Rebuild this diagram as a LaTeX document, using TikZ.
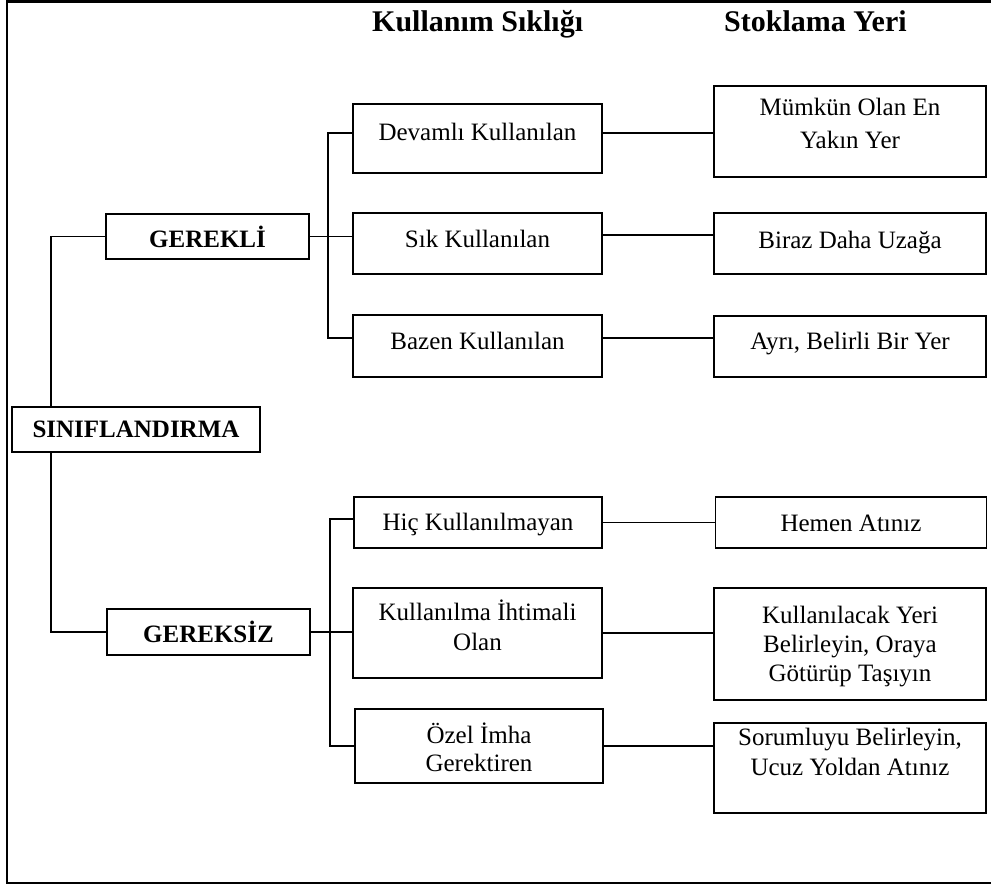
\documentclass[tikz,border=0pt]{standalone}
\usepackage{fontspec}
\setmainfont{Liberation Serif}
\tikzset{
  box/.style={draw, line width=1.7pt, inner sep=0pt, font=\fontsize{25}{31}\selectfont},
  bbox/.style={box, font=\fontsize{25}{31}\selectfont\bfseries},
  txt/.style={inner sep=0pt, anchor=base, font=\fontsize{25}{31}\selectfont},
  ttl/.style={inner sep=0pt, anchor=base west, font=\fontsize{30}{36}\selectfont\bfseries},
  conn/.style={line width=1.4pt},
  frm/.style={line width=2.2pt}
}
\begin{document}
\begin{tikzpicture}[x=1pt,y=-1pt]
\useasboundingbox (0,0) rectangle (991,886);
% frame
\coordinate (f1) at (998,1.5);
\coordinate (f2) at (7,1.5);
\coordinate (f3) at (7,883);
\coordinate (f4) at (998,883);
\draw[frm] (f1) -- (f2) -- (f3) -- (f4);
% titles
\node[ttl] (t1) at (372,31) {Kullanım Sıklığı};
\node[ttl] (t2) at (724,31) {Stoklama Yeri};
% left column
\node[bbox, minimum width=248pt, minimum height=45pt] (sin) at (136,429.5) {SINIFLANDIRMA};
\node[bbox, minimum width=203pt, minimum height=45pt] (grk) at (207.5,236.5) {GEREKLİ};
\node[bbox, minimum width=203pt, minimum height=46pt] (grs) at (208.5,632) {GEREKSİZ};
% middle column
\node[box, minimum width=249pt, minimum height=69pt] (dev) at (477.5,138.5) {};
\node[box, minimum width=249pt, minimum height=61pt] (sik) at (477.5,243.5) {};
\node[box, minimum width=249pt, minimum height=62pt] (baz) at (477.5,346) {};
\node[box, minimum width=248pt, minimum height=51pt] (hic) at (478,522.5) {};
\node[box, minimum width=249pt, minimum height=90pt] (kul) at (477.5,633) {};
\node[box, minimum width=248pt, minimum height=74pt] (ozl) at (479,746) {};
\node[txt] (devt) at (477.5,140) {Devamlı Kullanılan};
\node[txt] (sikt) at (477.5,247) {Sık Kullanılan};
\node[txt] (bazt) at (477.5,349) {Bazen Kullanılan};
\node[txt] (hict) at (478,530) {Hiç Kullanılmayan};
\node[txt] (kula) at (477.5,620) {Kullanılma İhtimali};
\node[txt] (kulb) at (477.5,650) {Olan};
\node[txt] (ozla) at (479,743) {Özel İmha};
\node[txt] (ozlb) at (479,771) {Gerektiren};
% right column
\node[box, minimum width=272pt, minimum height=91pt] (mum) at (850,131.5) {};
\node[box, minimum width=272pt, minimum height=61pt] (bir) at (850,243.5) {};
\node[box, minimum width=272pt, minimum height=61pt] (ayr) at (850,346.5) {};
\node[box, minimum width=271pt, minimum height=51pt] (hem) at (851,522.5) {};
\node[box, minimum width=272pt, minimum height=112pt] (kyr) at (850,644) {};
\node[box, minimum width=272pt, minimum height=90pt] (sor) at (850,768) {};
\node[txt] (muma) at (850,115) {Mümkün Olan En};
\node[txt] (mumb) at (850,148) {Yakın Yer};
\node[txt] (birt) at (850,248) {Biraz Daha Uzağa};
\node[txt] (ayrt) at (850,349) {Ayrı, Belirli Bir Yer};
\node[txt] (hemt) at (851,531) {Hemen Atınız};
\node[txt] (kyra) at (850,623) {Kullanılacak Yeri};
\node[txt] (kyrb) at (850,652) {Belirleyin, Oraya};
\node[txt] (kyrc) at (850,681) {Götürüp Taşıyın};
\node[txt] (sora) at (850,745) {Sorumluyu Belirleyin,};
\node[txt] (sorb) at (850,775) {Ucuz Yoldan Atınız};
% connectors: left trunk
\draw[conn] ([xshift=40pt]sin.north west) |- (grk.west);
\draw[conn] ([xshift=40pt]sin.south west) |- (grs.west);
% upper group
\draw[conn] (grk.east) -- (grk.east -| sik.west);
\draw[conn] ([yshift=5.5pt]dev.west) -- ++(-24,0) |- ([yshift=8pt]baz.west);
\draw[conn] ([yshift=5.5pt]dev.east) -- ([yshift=5.5pt]dev.east -| mum.west);
\draw[conn] ([yshift=8.5pt]sik.east) -- ([yshift=8.5pt]sik.east -| bir.west);
\draw[conn] ([yshift=8pt]baz.east) -- ([yshift=8pt]baz.east -| ayr.west);
% lower group
\draw[conn] (grs.east) -- (grs.east -| kul.west);
\draw[conn] ([yshift=3.5pt]hic.west) -- ++(-23,0) |- (ozl.west);
\draw[conn] (hic.east) -- (hic.east -| hem.west);
\draw[conn] (kul.east) -- (kul.east -| kyr.west);
\draw[conn] (ozl.east) -- (ozl.east -| sor.west);
\end{tikzpicture}
\end{document}
